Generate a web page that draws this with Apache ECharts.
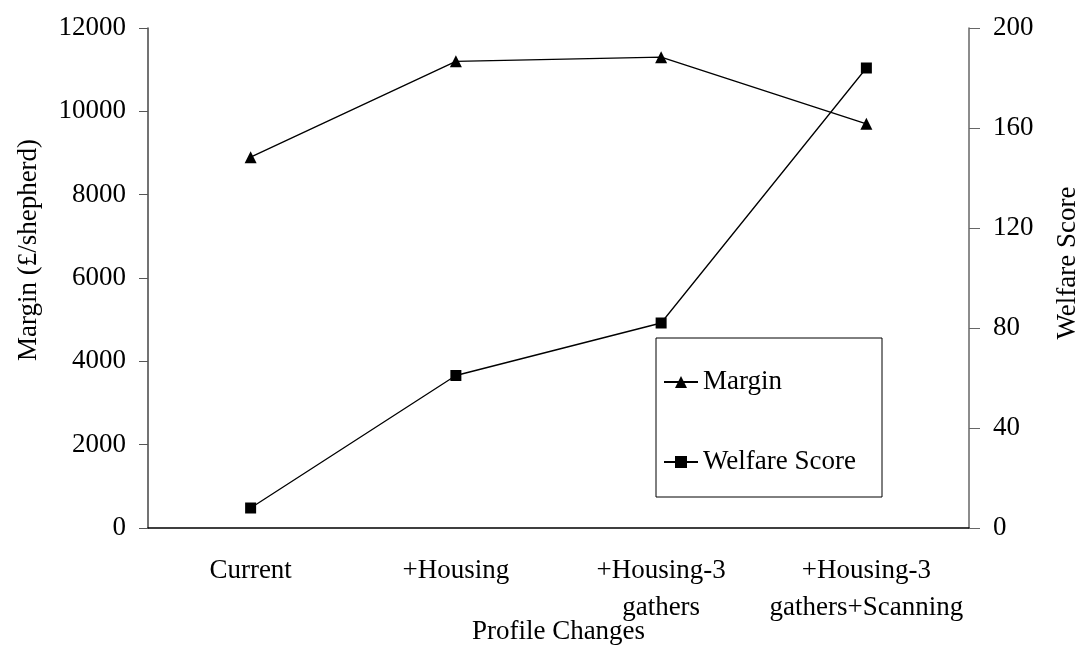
<!DOCTYPE html>
<html>
<head>
<meta charset="utf-8">
<script src="https://cdn.jsdelivr.net/npm/echarts@6/dist/echarts.min.js"></script>
<style>
  html, body { margin: 0; padding: 0; background: #fff; }
  #chart { width: 1084px; height: 646px; }
</style>
</head>
<body>
<div id="chart"></div>
<script>
const categories = ['Current', '+Housing', '+Housing-3\ngathers', '+Housing-3\ngathers+Scanning'];
const marginValues = [8900, 11200, 11300, 9700];
const welfareValues = [8, 61, 82, 184];

const font = 'Liberation Serif';
const txt = { color: '#000', fontFamily: font, fontSize: 27 };

const myChart = echarts.init(document.getElementById('chart'));
myChart.setOption({
  animation: false,
  textStyle: { fontFamily: font, color: '#000' },
  grid: { left: 148, right: 115, top: 28, bottom: 118, outerBoundsMode: 'none', containLabel: false },
  legend: {
    orient: 'vertical',
    left: 656,
    top: 338,
    padding: [29, 4, 20, 7],
    itemGap: 50,
    itemWidth: 34,
    itemHeight: 15,
    borderColor: '#000',
    borderWidth: 1,
    textStyle: { ...txt, lineHeight: 30, width: 175 },
    data: ['Margin', 'Welfare Score'],
  },
  xAxis: {
    type: 'category',
    data: categories,
    boundaryGap: true,
    name: 'Profile Changes',
    nameLocation: 'middle',
    nameGap: 90,
    nameMoveOverlap: false,
    nameTextStyle: txt,
    axisLine: { lineStyle: { color: '#000', width: 1.5 } },
    axisTick: { length: 9, lineStyle: { color: '#555' } },
    axisLabel: { ...txt, margin: 24, lineHeight: 37, interval: 0 },
  },
  yAxis: [
    {
      type: 'value',
      min: 0,
      max: 12000,
      interval: 2000,
      name: 'Margin (£/shepherd)',
      nameLocation: 'middle',
      nameRotate: 90,
      nameGap: 106,
      nameMoveOverlap: false,
      nameTextStyle: { ...txt, padding: [0, 0, 0, 56] },
      axisLine: { show: true, lineStyle: { color: '#444', width: 1.5 } },
      axisTick: { show: true, length: 9, lineStyle: { color: '#555' } },
      axisLabel: { ...txt, margin: 22, formatter: (v) => String(v) },
      splitLine: { show: false },
    },
    {
      type: 'value',
      min: 0,
      max: 200,
      interval: 40,
      position: 'right',
      name: 'Welfare Score',
      nameLocation: 'middle',
      nameRotate: 90,
      nameGap: 85,
      nameMoveOverlap: false,
      nameTextStyle: { ...txt, padding: [0, 0, 0, 30] },
      axisLine: { show: true, lineStyle: { color: '#666', width: 1.5 } },
      axisTick: { show: true, length: 11, lineStyle: { color: '#666' } },
      axisLabel: { ...txt, margin: 24, formatter: (v) => String(v) },
      splitLine: { show: false },
    },
  ],
  series: [
    {
      name: 'Margin',
      type: 'line',
      yAxisIndex: 0,
      data: marginValues,
      symbol: 'triangle',
      symbolSize: 12,
      itemStyle: { color: '#000' },
      lineStyle: { color: '#000', width: 1.3 },
    },
    {
      name: 'Welfare Score',
      type: 'line',
      yAxisIndex: 1,
      data: welfareValues,
      symbol: 'rect',
      symbolSize: 11,
      itemStyle: { color: '#000' },
      lineStyle: { color: '#000', width: 1.3 },
    },
  ],
});
window.onresize = function () {
  myChart.resize();
};
</script>
</body>
</html>
